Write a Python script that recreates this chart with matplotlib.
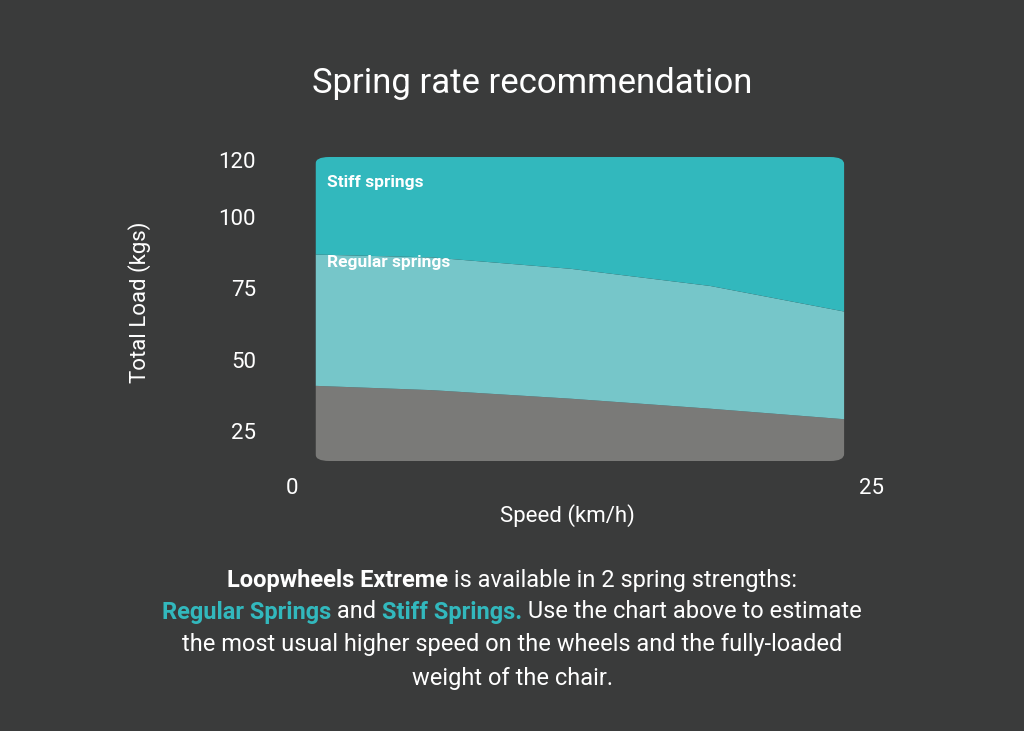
import matplotlib.pyplot as plt
from matplotlib.patches import FancyBboxPatch

# data
speed = [1, 6, 12, 18, 23.8]
soft_top = [41, 39.5, 36.5, 33, 29.3]
regular_top = [87, 86, 82, 76, 67]
stiff_top = [121, 121, 121, 121, 121]
load_floor = 14.5
y_ticks = [25, 50, 75, 100, 120]
x_ticks = [0, 25]

BG = '#3a3b3b'
STIFF = '#32b8bd'
REGULAR = '#76c6c9'
GREY = '#7a7a78'
plt.rcParams['font.family'] = ['Roboto', 'DejaVu Sans']

W, H = 1024, 731
fig = plt.figure(figsize=(W / 100, H / 100), dpi=100, facecolor=BG)
ax = fig.add_axes([292 / W, 1 - 461 / H, 580 / W, 304 / H])
ax.set_facecolor('none')
ax.set_xlim(0, 25)
ax.set_ylim(load_floor, 121)

clip = FancyBboxPatch((speed[0], load_floor), speed[-1] - speed[0], 121 - load_floor,
                      boxstyle='round,pad=0,rounding_size=0.6', transform=ax.transData,
                      facecolor='none', edgecolor='none', mutation_aspect=4.2)
ax.add_patch(clip)
for lo, hi, c in [([load_floor] * 5, soft_top, GREY), (soft_top, regular_top, REGULAR),
                  (regular_top, stiff_top, STIFF)]:
    p = ax.fill_between(speed, lo, hi, color=c, lw=0)
    p.set_clip_path(clip)

for s in ax.spines.values():
    s.set_visible(False)
ax.set_xticks(x_ticks)
ax.set_yticks(y_ticks)
ax.tick_params(length=0, colors='white', labelsize=16)
ax.tick_params(axis='x', pad=12)
ax.tick_params(axis='y', pad=26)

ax.text(1.5, 112, 'Stiff springs', color='white', fontsize=12.5, fontweight='bold', va='center')
ax.text(1.5, 84, 'Regular springs', color='white', fontsize=12.5, fontweight='bold', va='center')

fig.text(532 / W, 1 - 84 / H, 'Spring rate recommendation', color='white', fontsize=25,
         ha='center', va='center')
fig.text(567 / W, 1 - 516 / H, 'Speed (km/h)', color='white', fontsize=16, ha='center', va='center')
fig.text(140 / W, 1 - 302 / H, 'Total Load (kgs)', color='white', fontsize=16, rotation=90,
         ha='center', va='center')

# caption with mixed styles
lines = [
    [('Loopwheels Extreme', 'white', 'bold'), (' is available in 2 spring strengths:', 'white', 'normal')],
    [('Regular Springs', STIFF, 'bold'), (' and ', 'white', 'normal'), ('Stiff Springs.', STIFF, 'bold'),
     (' Use the chart above to estimate', 'white', 'normal')],
    [('the most usual higher speed on the wheels and the fully-loaded', 'white', 'normal')],
    [('weight of the chair.', 'white', 'normal')],
]
line_y = [580, 612, 645, 678]
rend = fig.canvas.get_renderer()
for parts, yy in zip(lines, line_y):
    texts = [fig.text(0, 1 - yy / H, s, color=c, fontweight=w, fontsize=17, va='center')
             for s, c, w in parts]
    widths = [t.get_window_extent(rend).width for t in texts]
    x = 512 - sum(widths) / 2
    for t, wd in zip(texts, widths):
        t.set_x(x / W)
        x += wd

fig.savefig('out.png', dpi=100, facecolor=BG)
